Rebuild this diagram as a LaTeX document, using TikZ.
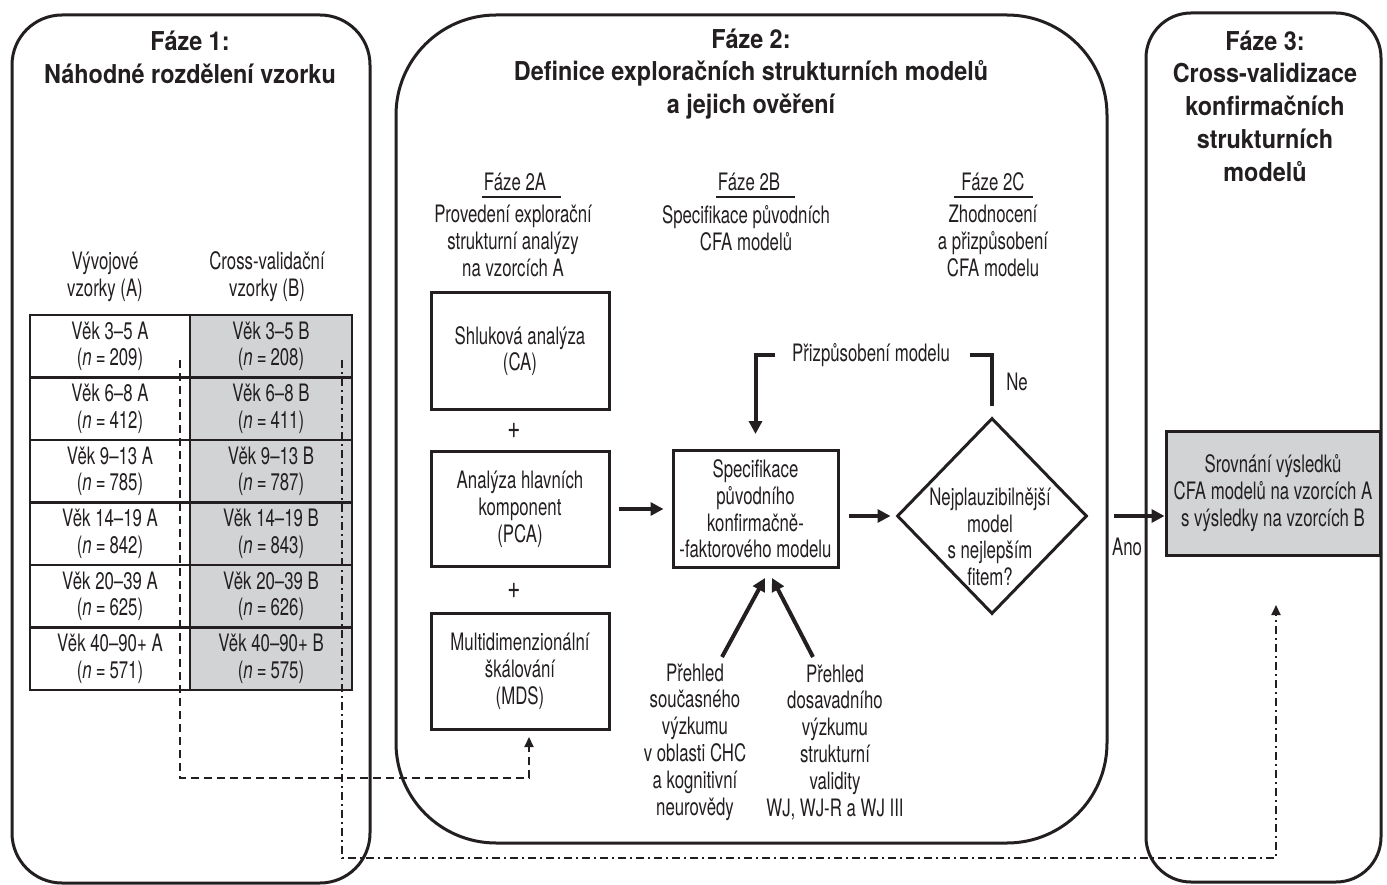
\documentclass[tikz,border=0pt]{standalone}
\usepackage{fontspec}
\setmainfont{TeX Gyre Heros}[FakeStretch=0.70]
\newfontfamily\headfont{TeX Gyre Heros}[FakeStretch=0.90]
\usetikzlibrary{arrows.meta,shapes.geometric}
\definecolor{ink}{HTML}{231F20}
\definecolor{cellgray}{HTML}{D1D3D4}

\begin{document}
\begin{tikzpicture}[x=1pt,y=-1pt,
  body/.style={text=ink, font=\fontsize{24}{26.8}\selectfont, align=center, inner sep=0pt},
  head/.style={text=ink, font=\headfont\bfseries\fontsize{26}{32.8}\selectfont, align=center, inner sep=0pt},
  panel/.style={draw=ink, line width=3pt, rounded corners=#1, inner sep=0pt},
  cellA/.style={body, draw=ink, line width=2.5pt, minimum width=160pt, minimum height=62.5pt},
  cellB/.style={cellA, fill=cellgray, minimum width=162pt},
  stepbox/.style={body, draw=ink, line width=3pt, minimum width=178pt, minimum height=116pt},
  uline/.style={draw=ink, line width=2pt},
  link/.style={draw=ink, line width=4pt},
  flow/.style={link, -{Triangle[length=13pt,width=13pt]}},
  dashline/.style={draw=ink, line width=2pt, dash pattern=on 8pt off 5pt,
    -{Triangle[length=10pt,width=9pt]}},
  dotdashline/.style={draw=ink, line width=2pt, dash pattern=on 8pt off 4pt on 2pt off 4pt,
    -{Triangle[length=10pt,width=9pt]}},
]
\useasboundingbox (0,0) rectangle (1387,885);

% --- the three phase panels ---
\node[panel=50pt, minimum width=358pt, minimum height=868pt] (ph1) at (191,449) {};
\node[panel=100pt, minimum width=711pt, minimum height=828pt] (ph2) at (751.5,429) {};
\node[panel=45pt, minimum width=235pt, minimum height=869pt] (ph3) at (1263.5,447.5) {};

% --- panel titles ---
\node[head] (t1) at (190,57.5) {Fáze 1:\\Náhodné rozdělení vzorku};
\node[head] (t2) at (751,74) {Fáze 2:\\Definice exploračních strukturních modelů\\a jejich ověření};
\node[head] (t3) at (1265,106) {Fáze 3:\\Cross-validizace\\konfirmačních\\strukturních\\modelů};

% --- phase 1: sample table ---
\node[body] (hA) at (105,277) {Vývojové\\vzorky (A)};
\node[body] (hB) at (267,277) {Cross-validační\\vzorky (B)};

\foreach \i/\age/\na/\nb in {1/3–5/209/208, 2/6–8/412/411, 3/9–13/785/787,
                             4/14–19/842/843, 5/20–39/625/626, 6/40–90+/571/575} {
  \node[cellA] (a\i) at (110,{315+62.5*(\i-0.5)}) {Věk \age{} A\\(\textit{n}\,=\,\na)};
  \node[cellB] (b\i) at (271,{315+62.5*(\i-0.5)}) {Věk \age{} B\\(\textit{n}\,=\,\nb)};
}

% --- phase 2A ---
\node[body] (h2a) at (515,182) {Fáze 2A};
\draw[uline] (482,197) -- (561,197);
\node[body] (d2a) at (513,241) {Provedení explorační\\strukturní analýzy\\na vzorcích A};
\node[stepbox] (ca) at (520,351) {Shluková analýza\\(CA)};
\node[body, font=\fontsize{32}{32}\selectfont] (plus1) at (514,431) {+};
\node[stepbox, minimum height=115pt] (pca) at (520,509) {Analýza hlavních\\komponent\\(PCA)};
\node[body, font=\fontsize{32}{32}\selectfont] (plus2) at (514,591) {+};
\node[stepbox] (mds) at (520,671) {Multidimenzionální\\škálování\\(MDS)};

% --- phase 2B ---
\node[body] (h2b) at (749,182) {Fáze 2B};
\draw[uline] (716,197) -- (795,197);
\node[body] (d2b) at (746,228) {Specifikace původních\\CFA modelů};
\node[stepbox, minimum width=165pt, minimum height=117pt] (spec) at (755.5,509)
  {Specifikace\\původního\\konfirmačně-\\-faktorového modelu};
\node[body] (rev1) at (695,742) {Přehled\\současného\\výzkumu\\v oblasti CHC\\a kognitivní\\neurovědy};
\node[body] (rev2) at (835,742) {Přehled\\dosavadního\\výzkumu\\strukturní\\validity\\WJ, WJ-R a WJ III};
\coordinate (r1) at (722,657);
\coordinate (r1t) at (765,578);
\coordinate (r2) at (813,657);
\coordinate (r2t) at (772,578);

% --- phase 2C ---
\node[body] (h2c) at (993,182) {Fáze 2C};
\draw[uline] (954,197) -- (1033,197);
\node[body] (d2c) at (993,241) {Zhodnocení\\a přizpůsobení\\CFA modelu};
\node[draw=ink, line width=3pt, diamond, minimum width=190pt, minimum height=196pt,
      inner sep=0pt] (dia) at (992,516) {};
\node[body] (diat) at (990,537) {Nejplauzibilnější\\model\\s nejlepším\\fitem?};
\node[body] (fb) at (871,355) {Přizpůsobení modelu};
\node[body] (ne) at (1017,382) {Ne};
\node[body] (ano) at (1127,547) {Ano};

% --- phase 3 ---
\node[body, draw=ink, line width=3pt, fill=cellgray, minimum width=214pt, minimum height=124pt]
  (cmp) at (1273,493) {Srovnání výsledků\\CFA modelů na vzorcích A\\s výsledky na vzorcích B};

% --- main flow ---
\draw[flow, shorten <=8pt, shorten >=8pt] (pca.east) -- (spec.west);
\draw[flow, shorten <=9pt, shorten >=5pt] (spec.east |- dia.west) -- (dia.west);
\draw[flow, shorten <=25pt] (dia.east) -- (dia.east -| cmp.west);
\draw[link, shorten <=11pt, shorten >=20pt] (dia.north) |- (fb.east);
\draw[flow, shorten <=17pt, shorten >=15pt] (fb.west) -| (spec.north);
\draw[flow] (r1) -- (r1t);
\draw[flow] (r2) -- (r2t);

% --- sample routing ---
\coordinate (tA) at (180,360);
\coordinate (dB) at (529,778);
\coordinate (mdsin) at (529,737);
\draw[dashline] (tA) -- (tA |- dB) -- (dB) -- (mdsin);

\coordinate (tB) at (342,360);
\coordinate (ddB) at (1276,858);
\coordinate (cmpin) at (1276,605);
\draw[dotdashline] (tB) -- (tB |- ddB) -- (ddB) -- (cmpin);
\end{tikzpicture}
\end{document}
